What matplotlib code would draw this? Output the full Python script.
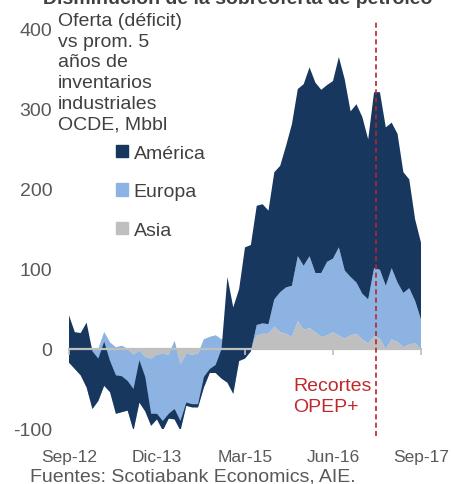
import numpy as np
import matplotlib
matplotlib.use("Agg")
import matplotlib.pyplot as plt
from matplotlib.patches import Patch

plt.rcParams['font.family'] = ['Liberation Sans', 'DejaVu Sans']

# Monthly data Sep-12 .. Sep-17 (61 months), Mbbl vs 5-yr average
asia = [0, 0, 0, 0, 0, 0, 21, 8, 2, 4,
        0, -7, -2, -10, -12, -7, -6, -7, 10, -19,
        -6, -7, -6, 12, 15, 17, 12, 10, 10, 10,
        5, 0, 17, 19, 19, 28, 21, 19, 15, 35,
        24, 26, 21, 15, 17, 21, 17, 13, 17, 19,
        12, 7, 16, 13, 0, 12, 9, 2, 6, 7, 0]
europa = [-17, -25, -33, -48, -75, -65, -67, -62, -83, -83,
          -77, -95, -65, -68, -84, -81, -96, -80, -98, -83,
          -65, -66, -67, -60, -45, -47, -49, -52, -66, -25,
          -17, -3, 13, 13, 12, 34, 50, 58, 64, 81,
          80, 90, 74, 80, 92, 92, 110, 85, 73, 64,
          57, 55, 85, 86, 79, 89, 74, 68, 70, 53, 37]
america = [59, 46, 53, 81, 72, 53, 55, 39, 48, 45,
           37, 52, 53, 43, 15, 7, 12, 6, 13, 12,
           4, 4, 4, 13, 5, 10, 37, 132, 108, 90,
           139, 133, 149, 149, 142, 159, 158, 177, 202, 209,
           227, 236, 238, 229, 221, 222, 238, 239, 207, 223,
           221, 200, 220, 222, 198, 182, 186, 151, 136, 102, 96]

series_names = ['Asia', 'Europa', 'América']
colors = ['#bfbfbf', '#8db3e2', '#17375e']
tick_pos = [0, 15, 30, 45, 60]
tick_labels = ['Sep-12', 'Dic-13', 'Mar-15', 'Jun-16', 'Sep-17']
opec_cut = 52.3
yticks = [-100, 0, 100, 200, 300, 400]

W, H = 452, 485
fig = plt.figure(figsize=(W / 100, H / 100), dpi=100)
ax = fig.add_axes([69 / W, 1 - 430 / H, (421 - 69) / W, 400 / H])

x = np.arange(len(asia))
ax.stackplot(x, asia, europa, america, colors=colors, labels=series_names,
             linewidth=0)

ax.set_xlim(0, 60)
ax.set_ylim(-100, 400)
ax.set_yticks(yticks)
ax.set_yticklabels([str(v) for v in yticks])
ax.set_xticks(tick_pos)
ax.set_xticklabels(tick_labels)

for s in ['top', 'right', 'left']:
    ax.spines[s].set_visible(False)
ax.spines['bottom'].set_position(('data', 0))
ax.spines['bottom'].set_color('#bfbfbf')
ax.spines['bottom'].set_linewidth(1.6)
ax.spines['bottom'].set_zorder(3)
ax.tick_params(axis='x', direction='out', length=4, width=1.2, color='#bfbfbf',
               labelsize=12.5, labelcolor='#595959', pad=68)
ax.tick_params(axis='y', length=0, labelsize=14, labelcolor='#595959', pad=12)

# OPEC+ cuts marker
ax.axvline(opec_cut, ymin=-0.018, ymax=1.018, color='#b0282c', lw=1.2,
           ls=(0, (3, 2)), clip_on=False, zorder=4)
fig.text(293 / W, 1 - 397 / H, 'Recortes\nOPEP+', ha='left', va='center',
         fontsize=14, color='#c0282c', linespacing=1.25)

# Legend
handles = [Patch(color=colors[2], label='América'),
           Patch(color=colors[1], label='Europa'),
           Patch(color=colors[0], label='Asia')]
leg = ax.legend(handles=handles, loc='upper left',
                bbox_to_anchor=(116 / W, 1 - 146 / H), bbox_transform=fig.transFigure,
                frameon=False, fontsize=14, handlelength=0.6, handleheight=0.6,
                handletextpad=0.3, labelspacing=1.1, borderpad=0, borderaxespad=0)
for t in leg.get_texts():
    t.set_color('#404040')

# Y axis description
fig.text(58 / W, 1 - 13 / H,
         'Oferta (déficit)\nvs prom. 5\naños de\ninventarios\nindustriales\nOCDE, Mbbl',
         ha='left', va='top', fontsize=14, color='#404040', linespacing=1.28)

# Title (cut at the top of the image) and source
fig.text(238 / W, 1 - 4 / H, 'Disminución de la sobreoferta de petróleo',
         ha='center', va='baseline', fontsize=14, fontweight='bold', color='#404040')
fig.text(30 / W, 1 - 477 / H, 'Fuentes: Scotiabank Economics, AIE.',
         ha='left', va='center', fontsize=14, color='#595959')

fig.savefig('out.png', dpi=100)
